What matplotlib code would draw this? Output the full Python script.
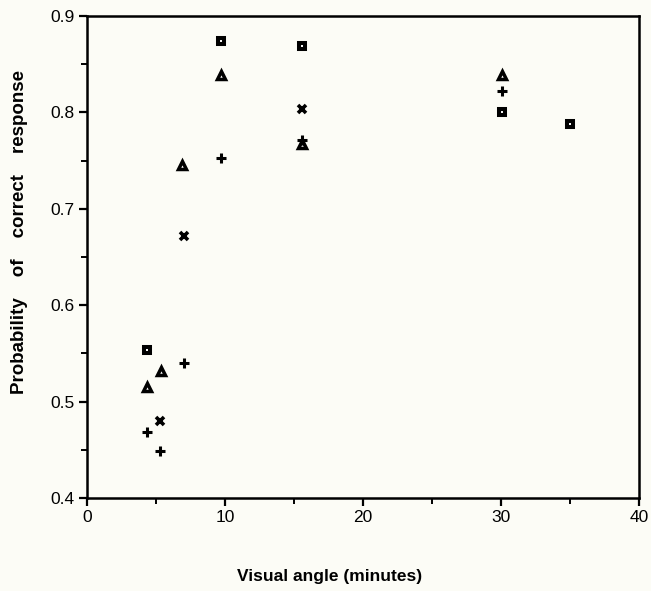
import numpy as np
import matplotlib.pyplot as plt
from matplotlib.ticker import MultipleLocator

# Probabilidad de respuesta correcta vs angulo visual
sq_x = [4.35, 9.7, 15.6, 30.1, 35.0]
sq_y = [0.553, 0.874, 0.869, 0.800, 0.788]

tri_x = [4.35, 5.35, 6.9, 9.7, 15.6, 30.1]
tri_y = [0.515, 0.532, 0.745, 0.839, 0.767, 0.839]

cross_x = [5.3, 7.0, 15.6]
cross_y = [0.480, 0.672, 0.804]

plus_x = [4.35, 5.3, 7.0, 9.7, 15.6, 30.1]
plus_y = [0.468, 0.449, 0.540, 0.753, 0.771, 0.822]

plt.rcParams['font.family'] = ['Liberation Sans', 'DejaVu Sans']
bg = '#fcfcf6'

fig = plt.figure(figsize=(6.51, 5.91), dpi=100, facecolor=bg)
ax = fig.add_axes([0.1336, 0.1574, 0.8480, 0.8155])
ax.set_facecolor(bg)

ax.plot(sq_x, sq_y, linestyle='none', marker='s', markersize=4,
        markerfacecolor='white', markeredgecolor='black', markeredgewidth=2.9)
ax.plot(tri_x, tri_y, linestyle='none', marker='^', markersize=5.5,
        markerfacecolor='white', markeredgecolor='black', markeredgewidth=2.5)
ax.plot(cross_x, cross_y, linestyle='none', marker='x', markersize=6,
        color='black', markeredgewidth=2.6)
ax.plot(plus_x, plus_y, linestyle='none', marker='+', markersize=7.5,
        color='black', markeredgewidth=2.2)

ax.set_xlim(0, 40)
ax.set_ylim(0.4, 0.9)
ax.xaxis.set_major_locator(MultipleLocator(10))
ax.xaxis.set_minor_locator(MultipleLocator(5))
ax.yaxis.set_major_locator(MultipleLocator(0.1))
ax.yaxis.set_minor_locator(MultipleLocator(0.05))
ax.set_yticklabels([f'{v:.1f}' for v in ax.get_yticks()])

for s in ax.spines.values():
    s.set_linewidth(1.8)
ax.tick_params(which='major', direction='out', length=6, width=1.6,
               labelsize=12.5, pad=3)
ax.tick_params(which='minor', direction='out', length=4, width=1.4)

ax.set_xlabel('Visual angle (minutes)', fontsize=12.5, fontweight='bold')
ax.xaxis.set_label_coords(0.44, -0.148)
ax.set_ylabel('Probability    of    correct    response', fontsize=13.5,
              fontweight='bold')
ax.yaxis.set_label_coords(-0.106, 0.552)

fig.savefig('out.png', dpi=100, facecolor=bg)
